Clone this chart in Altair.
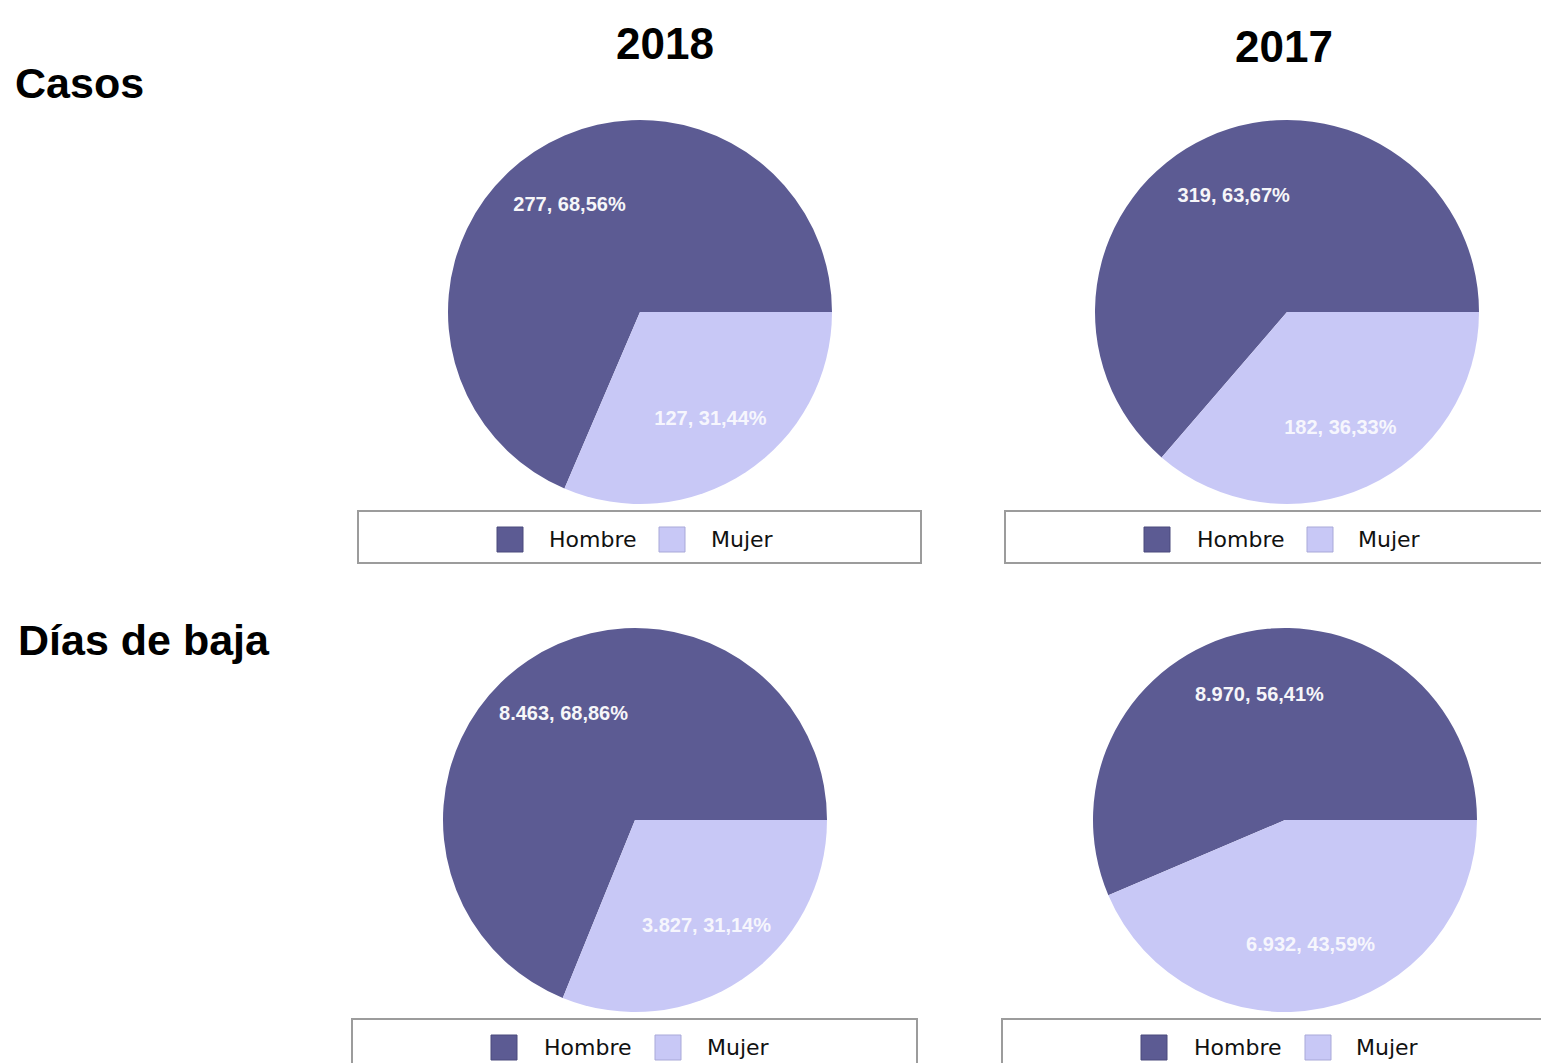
import math
import altair as alt
import pandas as pd

# ---------------- data ----------------
categories = ["Hombre", "Mujer"]
colors = ["#5c5b93", "#c8c8f6"]
years = ["2018", "2017"]
metrics = ["Casos", "Días de baja"]
casos_2018 = [277, 127]
casos_2017 = [319, 182]
dias_2018 = [8463, 3827]
dias_2017 = [8970, 6932]

panels = [
    ("Casos", "2018", casos_2018),
    ("Casos", "2017", casos_2017),
    ("Días de baja", "2018", dias_2018),
    ("Días de baja", "2017", dias_2017),
]


def fmt_int(v):
    return f"{v:,}".replace(",", ".")


def fmt_pct(p):
    return f"{p:.2f}".replace(".", ",") + "%"


rows = []
for m, y, vals in panels:
    tot = sum(vals)
    for c, v in zip(categories, vals):
        p = v / tot * 100
        rows.append(dict(metric=m, year=y, cat=c, value=v, pct=p,
                         ord=1 if c == "Hombre" else 0,
                         label=f"{fmt_int(v)}, {fmt_pct(p)}"))
df = pd.DataFrame(rows)

# ---------------- layout (chart pixel coords) ----------------
W, H = 1533, 1055
centers = {
    ("Casos", "2018"): (632, 304),
    ("Casos", "2017"): (1279, 304),
    ("Días de baja", "2018"): (627, 812),
    ("Días de baja", "2017"): (1277, 812),
}
R = 192
LABEL_R = 128
# legend boxes: (x0, x1, y0, y1, square1_x, text1_x, square2_x, text2_x, ycenter)
legends = {
    ("Casos", "2018"): (350, 913, 503, 555, 489, 541, 651, 703, 532),
    ("Casos", "2017"): (997, 1560, 503, 555, 1136, 1189, 1299, 1350, 532),
    ("Días de baja", "2018"): (344, 909, 1011, 1070, 483, 536, 647, 699, 1040),
    ("Días de baja", "2017"): (994, 1560, 1011, 1070, 1133, 1186, 1297, 1348, 1040),
}

theta_scale = alt.Scale(domain=[0, 100], range=[math.pi / 2, math.pi / 2 + 2 * math.pi])
color_scale = alt.Scale(domain=categories, range=colors)

layers = []
for (m, y, _vals) in panels:
    cx, cy = centers[(m, y)]
    base = alt.Chart(df).transform_filter(
        (alt.datum.metric == m) & (alt.datum.year == y)
    )
    arc = base.mark_arc(strokeWidth=0).encode(
        theta=alt.Theta("pct:Q", stack=True, scale=theta_scale),
        color=alt.Color("cat:N", scale=color_scale, legend=None),
        order=alt.Order("ord:Q"),
        x=alt.value(cx),
        y=alt.value(cy),
        radius=alt.value(R),
    )
    txt = base.mark_text(
        radius=LABEL_R, font="Liberation Sans", fontSize=20, fontWeight="bold",
        color="white", align="center", baseline="middle",
    ).encode(
        theta=alt.Theta("pct:Q", stack=True, scale=theta_scale),
        order=alt.Order("ord:Q"),
        text="label:N",
        opacity=alt.condition(alt.datum.cat == "Mujer", alt.value(0.85), alt.value(0.95)),
        x=alt.value(cx),
        y=alt.value(cy),
    )
    layers += [arc, txt]

    # legend box
    x0, x1, y0, y1, s1, t1, s2, t2, yc = legends[(m, y)]
    one = pd.DataFrame({"k": [0]})
    layers.append(
        alt.Chart(one).mark_rect(fill="white", stroke="#9c9c9c", strokeWidth=2).encode(
            x=alt.value(x0), x2=alt.value(x1), y=alt.value(y0), y2=alt.value(y1)
        )
    )
    for cat, col, sx, tx in [(categories[0], colors[0], s1, t1), (categories[1], colors[1], s2, t2)]:
        cdf = pd.DataFrame({"cat": [cat]})
        stroke = "#4a4a7c" if cat == "Hombre" else "#a9a9d8"
        layers.append(
            alt.Chart(cdf).mark_rect(fill=col, stroke=stroke, strokeWidth=1).encode(
                x=alt.value(sx), x2=alt.value(sx + 26),
                y=alt.value(yc - 13), y2=alt.value(yc + 12),
            )
        )
        layers.append(
            alt.Chart(cdf).mark_text(
                font="DejaVu Sans", fontSize=22, color="#111111",
                align="left", baseline="middle",
            ).encode(text="cat:N", x=alt.value(tx), y=alt.value(yc))
        )

# column titles (years)
year_x = [657, 1276]
year_base = [51, 54]
for yr, xx, yb in zip(years, year_x, year_base):
    layers.append(
        alt.Chart(pd.DataFrame({"t": [yr]})).mark_text(
            font="Liberation Sans", fontSize=44, fontWeight="bold", color="black",
            align="center", baseline="alphabetic",
        ).encode(text="t:N", x=alt.value(xx), y=alt.value(yb))
    )

# row titles (metrics)
metric_x = [7, 10]
metric_base = [90, 647]
for mt, xx, yb in zip(metrics, metric_x, metric_base):
    layers.append(
        alt.Chart(pd.DataFrame({"t": [mt]})).mark_text(
            font="Liberation Sans", fontSize=43, fontWeight="bold", color="black",
            align="left", baseline="alphabetic",
        ).encode(text="t:N", x=alt.value(xx), y=alt.value(yb))
    )

chart = alt.layer(*layers).properties(
    width=W, height=H, padding=0, autosize="none"
).configure_view(stroke=None)

chart.save("out.html", embed_options={"renderer": "svg", "actions": False})
